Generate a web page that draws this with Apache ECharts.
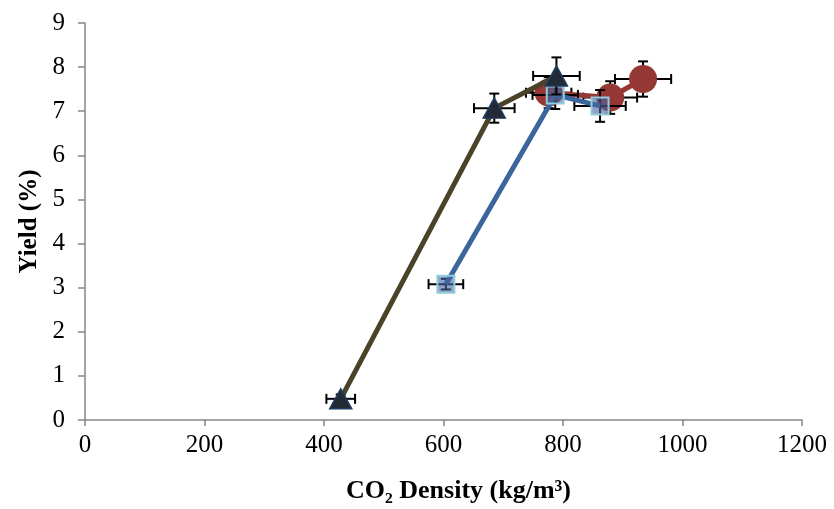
<!DOCTYPE html>
<html><head><meta charset="utf-8">
<script src="https://cdn.jsdelivr.net/npm/echarts@6/dist/echarts.min.js"></script>
<style>html,body{margin:0;padding:0;background:#fff}#c{width:834px;height:509px}</style>
</head><body><div id="c"></div>
<script>
// Series A (red circles)
const redX = [776, 879, 934];
const redY = [7.42, 7.31, 7.73];
const redXErr = [38, 45, 47];
const redYErr = [0.35, 0.37, 0.4];
// Series B (blue squares)
const blueX = [604, 787, 862];
const blueY = [3.08, 7.37, 7.12];
const blueXErr = [29, 38, 43];
const blueYErr = [0.12, 0.32, 0.36];
// Series C (dark triangles)
const triX = [428, 685, 789];
const triY = [0.48, 7.07, 7.8];
const triXErr = [24, 34, 39];
const triYErr = [0.1, 0.33, 0.42];

const xTicks = [0, 200, 400, 600, 800, 1000, 1200];
const yTicks = [0, 1, 2, 3, 4, 5, 6, 7, 8, 9];

function pts(xs, ys) { return xs.map((x, i) => [x, ys[i]]); }
function errData(xs, ys, xe, ye) { return xs.map((x, i) => [x, ys[i], xe[i], ye[i]]); }

function errRender(params, api) {
  const x = api.value(0), y = api.value(1), xe = api.value(2), ye = api.value(3);
  const c = api.coord([x, y]);
  const l = api.coord([x - xe, y]), r = api.coord([x + xe, y]);
  const t = api.coord([x, y + ye]), b = api.coord([x, y - ye]);
  const cap = 5;
  const st = { stroke: '#000', lineWidth: 2 };
  const line = (x1, y1, x2, y2) => ({ type: 'line', shape: { x1, y1, x2, y2 }, style: st });
  return {
    type: 'group',
    children: [
      line(l[0], c[1], r[0], c[1]),
      line(l[0], c[1] - cap, l[0], c[1] + cap),
      line(r[0], c[1] - cap, r[0], c[1] + cap),
      line(c[0], t[1], c[0], b[1]),
      line(c[0] - cap, t[1], c[0] + cap, t[1]),
      line(c[0] - cap, b[1], c[0] + cap, b[1])
    ]
  };
}

const chart = echarts.init(document.getElementById('c'), null, { renderer: 'canvas' });
const font = '"Liberation Serif", "Times New Roman", serif';
chart.setOption({
  animation: false,
  backgroundColor: '#fff',
  grid: { left: 85, right: 32, top: 23, bottom: 89, containLabel: false },
  xAxis: {
    type: 'value', min: 0, max: 1200, interval: 200,
    axisLine: { lineStyle: { color: '#868686', width: 1.5 } },
    axisTick: { show: true, inside: false, length: 6, lineStyle: { color: '#868686', width: 1.5 } },
    splitLine: { show: false },
    axisLabel: { color: '#000', fontFamily: font, fontSize: 25, margin: 13,
      formatter: v => xTicks.includes(v) ? String(v) : '' },
    name: 'CO\u2082 Density (kg/m\u00B3)', nameLocation: 'middle', nameGap: 58,
    nameTextStyle: { color: '#000', fontFamily: font, fontSize: 26, fontWeight: 'bold', padding: [0, 0, 0, 30] }
  },
  yAxis: {
    type: 'value', min: 0, max: 9, interval: 1,
    axisLine: { show: true, lineStyle: { color: '#868686', width: 1.5 } },
    axisTick: { show: true, length: 7, lineStyle: { color: '#868686', width: 1.5 } },
    splitLine: { show: false },
    axisLabel: { color: '#000', fontFamily: font, fontSize: 25, margin: 20,
      formatter: v => yTicks.includes(v) ? String(v) : '' },
    name: 'Yield (%)', nameLocation: 'middle', nameGap: 43, nameRotate: 90,
    nameTextStyle: { color: '#000', fontFamily: font, fontSize: 25, fontWeight: 'bold' }
  },
  series: [
    { type: 'custom', renderItem: errRender, data: errData(redX, redY, redXErr, redYErr), z: 2, silent: true },
    { type: 'line', data: pts(redX, redY), z: 3, symbol: 'circle', symbolSize: 28,
      lineStyle: { color: '#953735', width: 5 },
      itemStyle: { color: '#953735', borderColor: '#953735', borderWidth: 0 } },
    { type: 'custom', renderItem: errRender, data: errData(blueX, blueY, blueXErr, blueYErr), z: 4, silent: true },
    { type: 'line', data: pts(blueX, blueY), z: 5, symbol: 'rect', symbolSize: 17,
      lineStyle: { color: '#3A669B', width: 5 },
      itemStyle: { color: 'rgba(70,100,160,0.6)', borderColor: '#93CDDD', borderWidth: 2 } },
    { type: 'custom', renderItem: errRender, data: errData(triX, triY, triXErr, triYErr), z: 6, silent: true },
    { type: 'line', data: pts(triX, triY), z: 7, symbol: 'triangle', symbolSize: [22, 20],
      lineStyle: { color: '#4A4329', width: 5 },
      itemStyle: { color: '#222A36', borderColor: '#1F3A60', borderWidth: 1.5 } }
  ]
});
</script></body></html>
